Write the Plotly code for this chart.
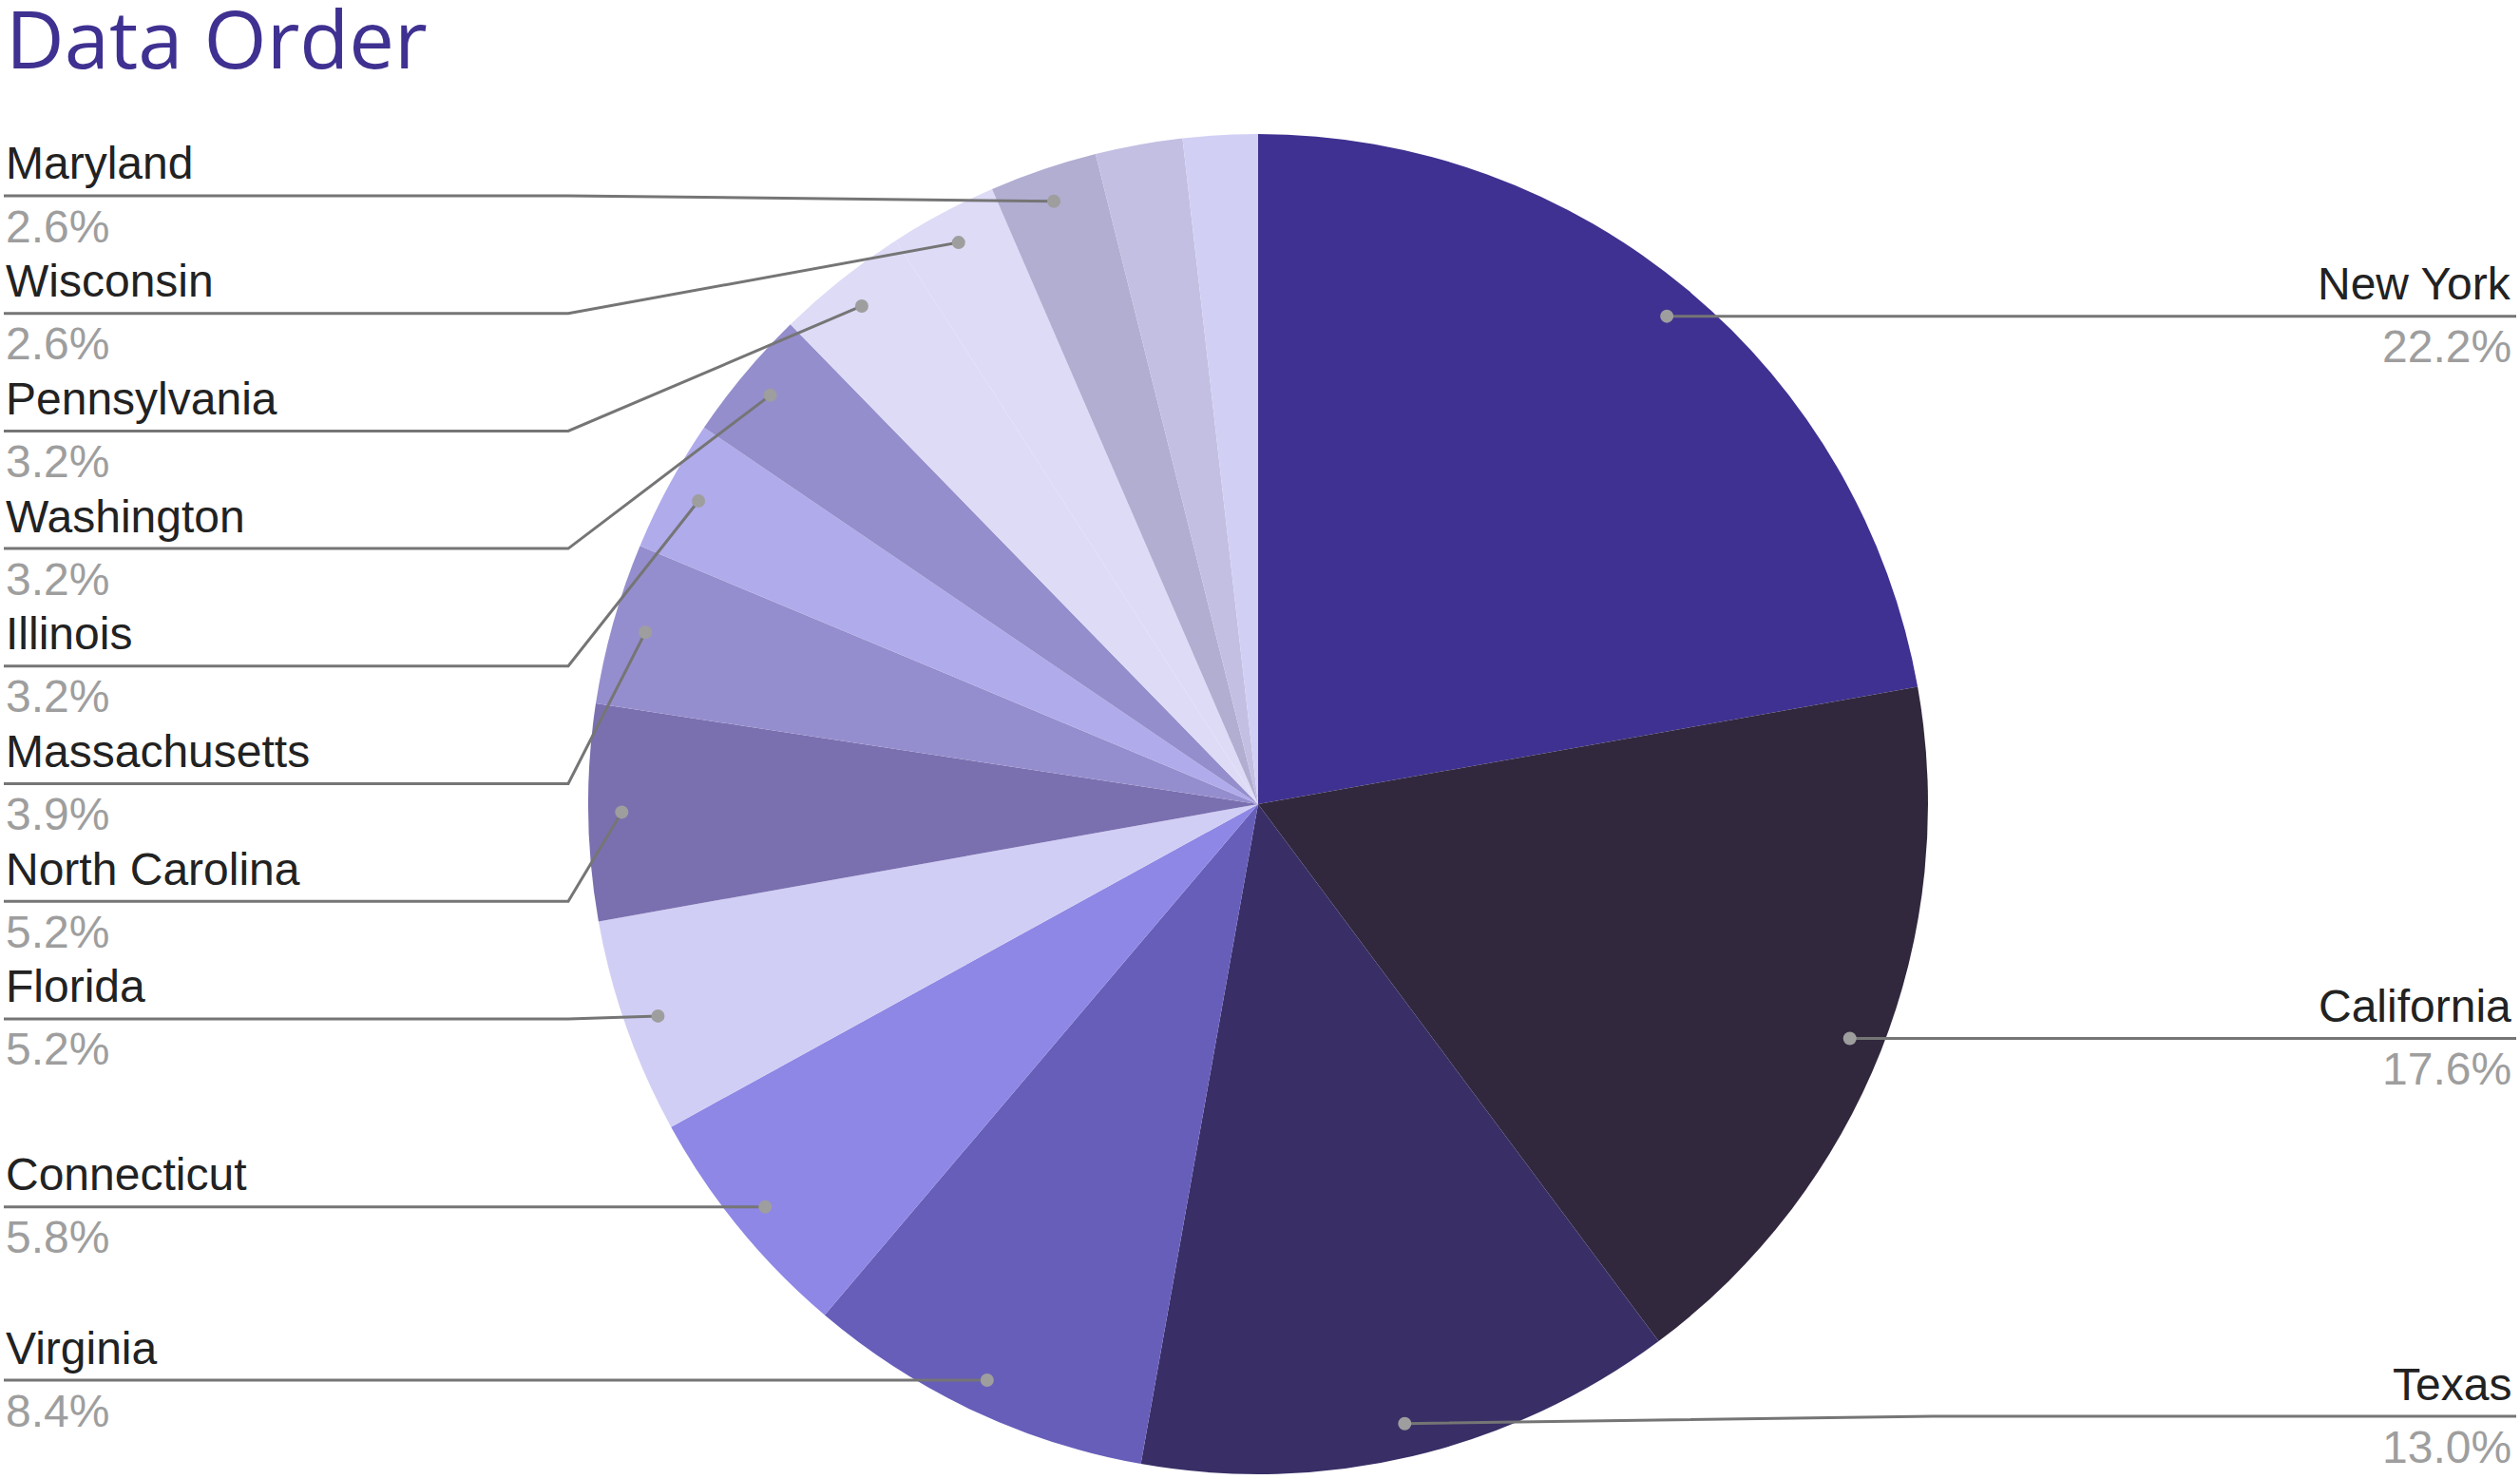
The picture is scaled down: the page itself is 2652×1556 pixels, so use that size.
import math
import plotly.graph_objects as go

# ---------------- data ----------------
labels = ["New York", "California", "Texas", "Virginia", "Connecticut", "Florida",
          "North Carolina", "Massachusetts", "Illinois", "Washington", "Pennsylvania",
          "Wisconsin", "Maryland", "Other (unlabeled) 1", "Other (unlabeled) 2"]
values = [22.2, 17.6, 13.0, 8.4, 5.8, 5.2, 5.2, 3.9, 3.2, 3.2, 3.2, 2.6, 2.6, 2.1, 1.8]
show_label = [True] * 13 + [False, False]
colors = ["#3f3191", "#31283e", "#392f66", "#675eba", "#8e87e5", "#d1cef5",
          "#7a70b0", "#958ece", "#b0abeb", "#948ecc", "#dedbf7", "#dedbf7",
          "#b1aed2", "#c2bfe2", "#d2cff5"]
title_text = "Data Order"

# ---------------- geometry ----------------
W, H = 2652, 1556
CX, CY, R = 1324, 846, 705
DOT_R = 0.95 * R
GAP = 123.7
TOP_LINE_MIN = 206
LEFT_ELBOW, RIGHT_ELBOW = 598, 2040
LEFT_EDGE, RIGHT_EDGE = 4, 2648
LINE_C, DOT_C = "#757575", "#9e9e9e"
NAME_C, PCT_C = "#222222", "#9e9e9e"
FS = 48

fig = go.Figure()
fig.add_trace(go.Pie(
    labels=labels, values=values, sort=False, direction="clockwise", rotation=0,
    marker=dict(colors=colors, line=dict(width=0)), textinfo="none",
    hovertemplate="%{label}: %{percent}<extra></extra>", showlegend=False,
    domain=dict(x=[(CX - R) / W, (CX + R) / W], y=[1 - (CY + R) / H, 1 - (CY - R) / H]),
))

total = sum(values)
cum = 0.0
items = []
for lab, v, sh in zip(labels, values, show_label):
    mid = (cum + v / 2) / total * 2 * math.pi
    cum += v
    if not sh:
        continue
    dx = DOT_R * math.sin(mid)
    dy = -DOT_R * math.cos(mid)
    items.append(dict(label=lab, pct=f"{v / total * 100:.1f}%", x=CX + dx, y=CY + dy,
                      side="right" if dx > 0 else "left"))

for side in ("left", "right"):
    grp = sorted([it for it in items if it["side"] == side], key=lambda d: d["y"])
    prev = None
    for it in grp:
        ly = min(it["y"], TOP_LINE_MIN) if prev is None and side == "left" else (
            it["y"] if prev is None else max(it["y"], prev + GAP))
        ly = min(ly, H - 66)
        it["ly"] = ly
        prev = ly

def px(x):
    return x / W

def py(y):
    return 1 - y / H

shapes = []
annotations = []
for it in items:
    if it["side"] == "left":
        ex, edge, xa, tx = LEFT_ELBOW, LEFT_EDGE, "left", LEFT_EDGE
    else:
        ex, edge, xa, tx = RIGHT_ELBOW, RIGHT_EDGE, "right", RIGHT_EDGE - 3
    if abs(it["ly"] - it["y"]) < 0.5:
        path = f"M {px(it['x'])} {py(it['y'])} L {px(edge)} {py(it['ly'])}"
    else:
        path = (f"M {px(it['x'])} {py(it['y'])} L {px(ex)} {py(it['ly'])} "
                f"L {px(edge)} {py(it['ly'])}")
    shapes.append(dict(type="path", xref="paper", yref="paper", path=path,
                       line=dict(color=LINE_C, width=3), layer="above"))
    rr = 7
    shapes.append(dict(type="circle", xref="paper", yref="paper",
                       x0=px(it["x"] - rr), x1=px(it["x"] + rr),
                       y0=py(it["y"] + rr), y1=py(it["y"] - rr),
                       fillcolor=DOT_C, line=dict(width=0), layer="above"))
    annotations.append(dict(text=it["label"], xref="paper", yref="paper",
                            x=px(tx), y=py(it["ly"] - 34), xanchor=xa, yanchor="middle",
                            showarrow=False,
                            font=dict(family="Liberation Sans, Arial", size=FS, color=NAME_C)))
    annotations.append(dict(text=it["pct"], xref="paper", yref="paper",
                            x=px(tx), y=py(it["ly"] + 32), xanchor=xa, yanchor="middle",
                            showarrow=False,
                            font=dict(family="Liberation Sans, Arial", size=FS, color=PCT_C)))

annotations.append(dict(text=title_text, xref="paper", yref="paper", x=px(4), y=py(39),
                        xanchor="left", yanchor="middle", showarrow=False,
                        font=dict(family="Open Sans", size=85, color="#3f3191")))

fig.update_layout(width=W, height=H, autosize=False, margin=dict(l=0, r=0, t=0, b=0),
                  paper_bgcolor="white", plot_bgcolor="white",
                  shapes=shapes, annotations=annotations)

fig.write_html("out.html", config={"displayModeBar": False},
               post_script="document.body.style.margin='0';document.body.style.overflow='hidden';")
